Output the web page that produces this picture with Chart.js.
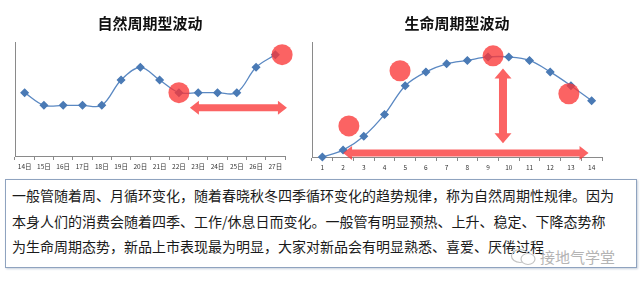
<!DOCTYPE html>
<html>
<head>
<meta charset="utf-8">
<script src="https://cdn.jsdelivr.net/npm/chart.js@4/dist/chart.umd.min.js"></script>
<style>
  html, body { margin: 0; padding: 0; background: #fff; }
  #wrap { position: relative; width: 640px; height: 285px; overflow: hidden; }
  #c1 { position: absolute; left: 0; top: 0; }
  #c2 { position: absolute; left: 285px; top: 0; }
  #nota {
    position: absolute; left: 5px; top: 179px; width: 624px; height: 84px;
    border: 1.5px solid #8fa3bf; box-shadow: 1px 1px 2px #c8d0dc;
    font-family: "Noto Sans CJK SC", sans-serif; font-size: 14px; line-height: 25.5px;
    color: #1a1a1a; padding: 3px 0 0 6px; box-sizing: content-box; white-space: nowrap;
  }
  #marca {
    position: absolute; left: 510px; top: 248px; color: #b4b4b4;
    font-family: "Noto Sans CJK SC", sans-serif; font-size: 15px; line-height: 18px;
  }
  #marca svg { vertical-align: -3px; margin-right: 2px; }
</style>
</head>
<body>
<div id="wrap">
  <canvas id="c1" width="300" height="176"></canvas>
  <canvas id="c2" width="340" height="177"></canvas>
  <div id="nota">
    一般管随着周、月循环变化，随着春晓秋冬四季循环变化的趋势规律，称为自然周期性规律。因为<br>
    本身人们的消费会随着四季、工作/休息日而变化。一般管有明显预热、上升、稳定、下降态势称<br>
    为生命周期态势，新品上市表现最为明显，大家对新品会有明显熟悉、喜爱、厌倦过程
  </div>
  <div id="marca"><svg width="28" height="18" viewBox="0 0 28 18"><ellipse cx="10" cy="8" rx="8.5" ry="6.5" fill="none" stroke="#c4c4c4" stroke-width="1.2"/><ellipse cx="18" cy="11" rx="7" ry="5.5" fill="#fff" stroke="#c4c4c4" stroke-width="1.2"/></svg>接地气学堂</div>
</div>
<script>
// --- DADOS ---
const naturalLabels = ['14日', '15日', '16日', '17日', '18日', '19日', '20日', '21日', '22日', '23日', '24日', '25日', '26日', '27日'];
const naturalValues = [5, 4, 4, 4, 4, 6, 7, 6, 5, 5, 5, 5, 7, 8];

const lifeLabels = ['1', '2', '3', '4', '5', '6', '7', '8', '9', '10', '11', '12', '13', '14'];
const lifeValues = [0, 6, 18, 37, 62, 74, 81, 84, 87, 87, 84, 74, 62, 49];

// destaques (em coordenadas de categoria / valor)
const naturalCircles = [[8, 5], [13.35, 8]];
const naturalArrows = [[8.57, 3.8, 13.6, 3.8]];
const lifeCircles = [[1.28, 27], [3.75, 75], [8.24, 88], [11.9, 55]];
const lifeArrows = [[1.0, 3.5, 12.85, 3.5], [8.72, 77, 8.72, 12]];

const lineColor = '#5a88c2';
const markColor = '#4a7ab5';
const redFill = 'rgba(250, 55, 55, 0.78)';
const axisColor = '#8a8a8a';

// seta dupla grossa
function setaDupla(ctx, x1, y1, x2, y2, shaft, head, headLen) {
  const ang = Math.atan2(y2 - y1, x2 - x1);
  const len = Math.hypot(x2 - x1, y2 - y1);
  ctx.save();
  ctx.translate(x1, y1);
  ctx.rotate(ang);
  ctx.beginPath();
  ctx.moveTo(0, 0);
  ctx.lineTo(headLen, -head / 2);
  ctx.lineTo(headLen, -shaft / 2);
  ctx.lineTo(len - headLen, -shaft / 2);
  ctx.lineTo(len - headLen, -head / 2);
  ctx.lineTo(len, 0);
  ctx.lineTo(len - headLen, head / 2);
  ctx.lineTo(len - headLen, shaft / 2);
  ctx.lineTo(headLen, shaft / 2);
  ctx.lineTo(headLen, head / 2);
  ctx.closePath();
  ctx.fillStyle = redFill;
  ctx.fill();
  ctx.restore();
}

// plugin que desenha círculos e setas vermelhas
const destaquesPlugin = {
  id: 'destaques',
  afterDatasetsDraw(chart, args, opts) {
    const { ctx, scales: { x, y } } = chart;
    opts.circles.forEach(([cx, cy]) => {
      ctx.beginPath();
      ctx.arc(x.getPixelForValue(cx), y.getPixelForValue(cy), opts.radius, 0, Math.PI * 2);
      ctx.fillStyle = redFill;
      ctx.fill();
    });
    opts.arrows.forEach(([ax, ay, bx, by]) => {
      const vertical = ax === bx;
      setaDupla(ctx, x.getPixelForValue(ax), y.getPixelForValue(ay), x.getPixelForValue(bx), y.getPixelForValue(by),
        vertical ? 8 : 7, vertical ? 17 : 14, vertical ? 10 : 9);
    });
  }
};

function criarGrafico(el, titulo, labels, values, yMax, pad, circles, arrows) {
  return new Chart(el, {
    type: 'line',
    data: {
      labels: labels,
      datasets: [{
        data: values,
        borderColor: lineColor,
        borderWidth: 1.3,
        tension: 0.35,
        pointStyle: 'rectRot',
        pointRadius: 3.6,
        pointBackgroundColor: markColor,
        pointBorderColor: markColor,
        clip: false
      }]
    },
    options: {
      responsive: false,
      animation: false,
      layout: { padding: pad },
      plugins: {
        legend: { display: false },
        tooltip: { enabled: false },
        title: {
          display: true,
          text: titulo,
          color: '#111',
          font: { family: '"Noto Sans CJK SC", sans-serif', size: 15, weight: 'bold', lineHeight: 1.2 },
          padding: { top: 14, bottom: 10 }
        },
        destaques: { circles: circles, arrows: arrows, radius: 10.5 }
      },
      scales: {
        x: {
          offset: true,
          grid: { offset: true, drawOnChartArea: false, drawTicks: true, tickLength: 4, color: axisColor },
          border: { color: axisColor, width: 1 },
          ticks: { color: '#333', font: { family: '"Noto Sans CJK SC", sans-serif', size: 6.5 }, padding: 3, maxRotation: 0, autoSkip: false },
          afterFit: s => { s.height = 20; }
        },
        y: {
          min: 0,
          max: yMax,
          grid: { display: true, color: 'transparent', drawTicks: false },
          border: { color: axisColor, width: 1 },
          ticks: { display: false },
          afterFit: s => { s.width = 0; }
        }
      }
    },
    plugins: [destaquesPlugin]
  });
}

criarGrafico(document.getElementById('c1'), '自然周期型波动', naturalLabels, naturalValues, 9,
  { left: 15, right: 15, bottom: 0 }, naturalCircles, naturalArrows);
criarGrafico(document.getElementById('c2'), '生命周期型波动', lifeLabels, lifeValues, 100,
  { left: 27, right: 23, bottom: 0 }, lifeCircles, lifeArrows);
</script>
</body>
</html>
